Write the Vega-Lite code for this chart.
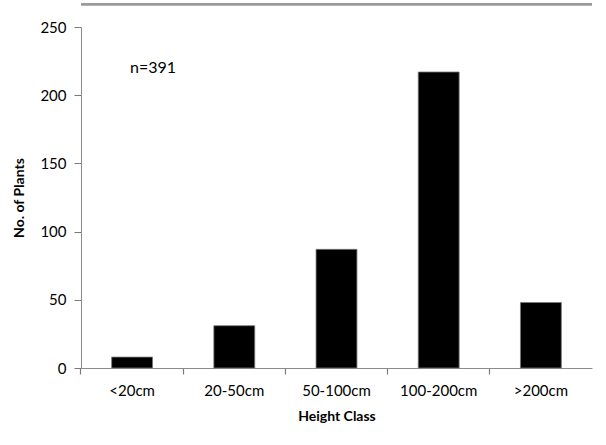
{
  "$schema": "https://vega.github.io/schema/vega-lite/v6.json",
  "autosize": "none",
  "width": 511,
  "height": 341,
  "padding": {"left": 81, "top": 27, "right": 14, "bottom": 77},
  "background": "white",
  "config": {
    "view": {"stroke": null},
    "font": "Lato",
    "axis": {
      "domainColor": "#8c8c8c",
      "tickColor": "#7a7a7a",
      "labelFont": "Lato",
      "labelFontSize": 15,
      "labelColor": "#000000",
      "titleFont": "Lato",
      "titleFontSize": 14,
      "titleFontWeight": "bold",
      "titleColor": "#000000",
      "grid": false
    }
  },
  "data": {
    "values": [
      {"height_class": "<20cm", "plants": 8},
      {"height_class": "20-50cm", "plants": 31},
      {"height_class": "50-100cm", "plants": 87},
      {"height_class": "100-200cm", "plants": 217},
      {"height_class": ">200cm", "plants": 48}
    ]
  },
  "layer": [
    {
      "mark": {"type": "bar", "color": "#000000", "stroke": "#777777", "strokeWidth": 0.8},
      "encoding": {
        "x": {
          "field": "height_class",
          "type": "nominal",
          "sort": null,
          "scale": {"domain": ["<20cm", "20-50cm", "50-100cm", "100-200cm", ">200cm"], "paddingInner": 0.6, "paddingOuter": 0.3},
          "axis": {
            "title": "Height Class",
            "labelAngle": 0,
            "ticks": true,
            "bandPosition": -0.75,
            "tickColor": "#7a7a7a",
            "tickSize": 6,
            "tickWidth": 1.2,
            "labelPadding": 9,
            "titlePadding": 11
          }
        },
        "y": {
          "field": "plants",
          "type": "quantitative",
          "scale": {"domain": [0, 250], "nice": false},
          "axis": {
            "title": "No. of Plants",
            "values": [0, 50, 100, 150, 200, 250],
            "tickSize": 7,
            "labelPadding": 8,
            "titlePadding": 13
          }
        }
      }
    },
    {
      "data": {"values": [{"label": "n=391", "cls": "<20cm", "ypos": 220}]},
      "mark": {"type": "text", "align": "left", "baseline": "middle", "fontSize": 16, "font": "Lato", "color": "#000000", "dx": -2},
      "encoding": {
        "x": {"field": "cls", "type": "nominal"},
        "y": {"field": "ypos", "type": "quantitative"},
        "text": {"field": "label"}
      }
    },
    {
      "mark": {"type": "rule", "color": "#9a9a9a", "strokeWidth": 2, "clip": false},
      "encoding": {
        "y": {"datum": 266.7}
      }
    }
  ]
}
